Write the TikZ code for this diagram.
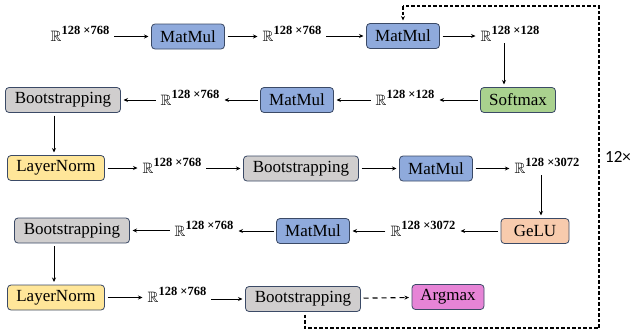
\documentclass[tikz,border=0pt]{standalone}
\usepackage{amssymb}
\usepackage{fontspec}
\setmainfont{Liberation Serif}
\newfontfamily\carl{Carlito}
\usetikzlibrary{arrows.meta}
\definecolor{bord}{HTML}{3B4A66}
\definecolor{mmblue}{HTML}{8FAADC}
\definecolor{bsgray}{HTML}{D0CECE}
\definecolor{lnyellow}{HTML}{FFE699}
\definecolor{smgreen}{HTML}{A9D18E}
\definecolor{geluor}{HTML}{F8CBAD}
\definecolor{argpink}{HTML}{E684D6}
\newcommand\Rdim[1]{$\mathbb{R}$\raisebox{7.5pt}{\fontsize{12.5}{12.5}\selectfont\bfseries #1}}
\tikzset{
  opbox/.style={draw=bord, line width=0.8pt, rounded corners=3.5pt, minimum height=25pt,
    inner sep=0pt, outer sep=3pt, font=\fontsize{17}{19}\selectfont},
  matmul/.style={opbox, fill=mmblue, minimum width=73pt},
  boots/.style={opbox, fill=bsgray, minimum width=115pt},
  lnorm/.style={opbox, fill=lnyellow, minimum width=97pt},
  softm/.style={opbox, fill=smgreen, minimum width=75pt},
  gelub/.style={opbox, fill=geluor, minimum width=68pt},
  argm/.style={opbox, fill=argpink, minimum width=72pt},
  dimlab/.style={inner xsep=5pt, inner ysep=1pt, font=\fontsize{15}{18}\selectfont},
  arr/.style={-{Stealth[length=4.5pt,width=4pt]}, line width=1pt},
  loopline/.style={line width=1.1pt, dash pattern=on 3.5pt off 2pt},
}
\begin{document}
\begin{tikzpicture}[x=1pt,y=-1pt]
\useasboundingbox (0,0) rectangle (634,333);
% row 1
\node[dimlab] (l1) at (80,34) {\Rdim{128 ×768}};
\node[matmul] (mm1) at (188,36.5) {MatMul};
\node[dimlab] (l2) at (292,34) {\Rdim{128 ×768}};
\node[matmul] (mm2) at (403,36) {MatMul};
\node[dimlab] (l3) at (510,34) {\Rdim{128 ×128}};
% row 2
\node[softm] (sm) at (518,100) {Softmax};
\node[dimlab] (l4) at (405,98) {\Rdim{128 ×128}};
\node[matmul] (mm3) at (297,100) {MatMul};
\node[dimlab] (l5) at (190,98) {\Rdim{128 ×768}};
\node[boots] (bs1) at (63,100) {Bootstrapping};
% row 3
\node[lnorm] (ln1) at (56,168) {LayerNorm};
\node[dimlab] (l6) at (172,166) {\Rdim{128 ×768}};
\node[boots] (bs2) at (301,168.5) {Bootstrapping};
\node[matmul] (mm4) at (436,168.5) {MatMul};
\node[dimlab] (l7) at (547,166) {\Rdim{128 ×3072}};
% row 4
\node[gelub] (gelu) at (535,231) {GeLU};
\node[dimlab] (l8) at (423,229) {\Rdim{128 ×3072}};
\node[matmul] (mm5) at (313,231) {MatMul};
\node[dimlab] (l9) at (204,229) {\Rdim{128 ×768}};
\node[boots] (bs3) at (72,230.5) {Bootstrapping};
% row 5
\node[lnorm] (ln2) at (56,297.5) {LayerNorm};
\node[dimlab] (l10) at (177,295) {\Rdim{128 ×768}};
\node[boots] (bs4) at (303,299) {Bootstrapping};
\node[argm] (am) at (448,297) {Argmax};
\node[font=\carl\fontsize{17}{20}\selectfont] (rep) at (618,157) {12×};
% connectors
\draw[arr] (l1.east |- mm1) -- (mm1);
\draw[arr] (mm1) -- (l2.west |- mm1);
\draw[arr] (l2.east |- mm2) -- (mm2);
\draw[arr] (mm2) -- (l3.west |- mm2);
\draw[arr] ([xshift=-6pt]l3.south) -- ([xshift=-6pt]l3.south |- sm.north);
\draw[arr] (sm) -- (l4.east |- sm);
\draw[arr] (l4.west |- mm3) -- (mm3);
\draw[arr] (mm3) -- (l5.east |- mm3);
\draw[arr] (l5.west |- bs1) -- (bs1);
\draw[arr] ([xshift=-9pt]bs1.south) -- ([xshift=-9pt]bs1.south |- ln1.north);
\draw[arr] (ln1) -- (l6.west |- ln1);
\draw[arr] (l6.east |- bs2) -- (bs2);
\draw[arr] (bs2) -- (mm4);
\draw[arr] (mm4) -- (l7.west |- mm4);
\draw[arr] ([xshift=-6pt]l7.south) -- ([xshift=-6pt]l7.south |- gelu.north);
\draw[arr] (gelu) -- (l8.east |- gelu);
\draw[arr] (l8.west |- mm5) -- (mm5);
\draw[arr] (mm5) -- (l9.east |- mm5);
\draw[arr] (l9.west |- bs3) -- (bs3);
\draw[arr] ([xshift=-18pt]bs3.south) -- ([xshift=-18pt]bs3.south |- ln2.north);
\draw[arr] (ln2) -- (l10.west |- ln2);
\draw[arr] (l10.east |- bs4) -- (bs4);
\draw[arr, line width=1.1pt, dash pattern=on 5pt off 4pt] (bs4) -- (am);
\coordinate (c1) at (305,328);
\coordinate (c2) at (599,328);
\coordinate (c3) at (599,6);
\coordinate (c4) at (403,6);
\draw[loopline] ([xshift=2pt]bs4.south) -- ([xshift=2pt]bs4.south |- c1) -- (c2) -- (c3) -- (c4);
\draw[arr, dash pattern=on 3.5pt off 2pt, line width=1.1pt] (c4) -- (mm2.north);
\end{tikzpicture}
\end{document}
